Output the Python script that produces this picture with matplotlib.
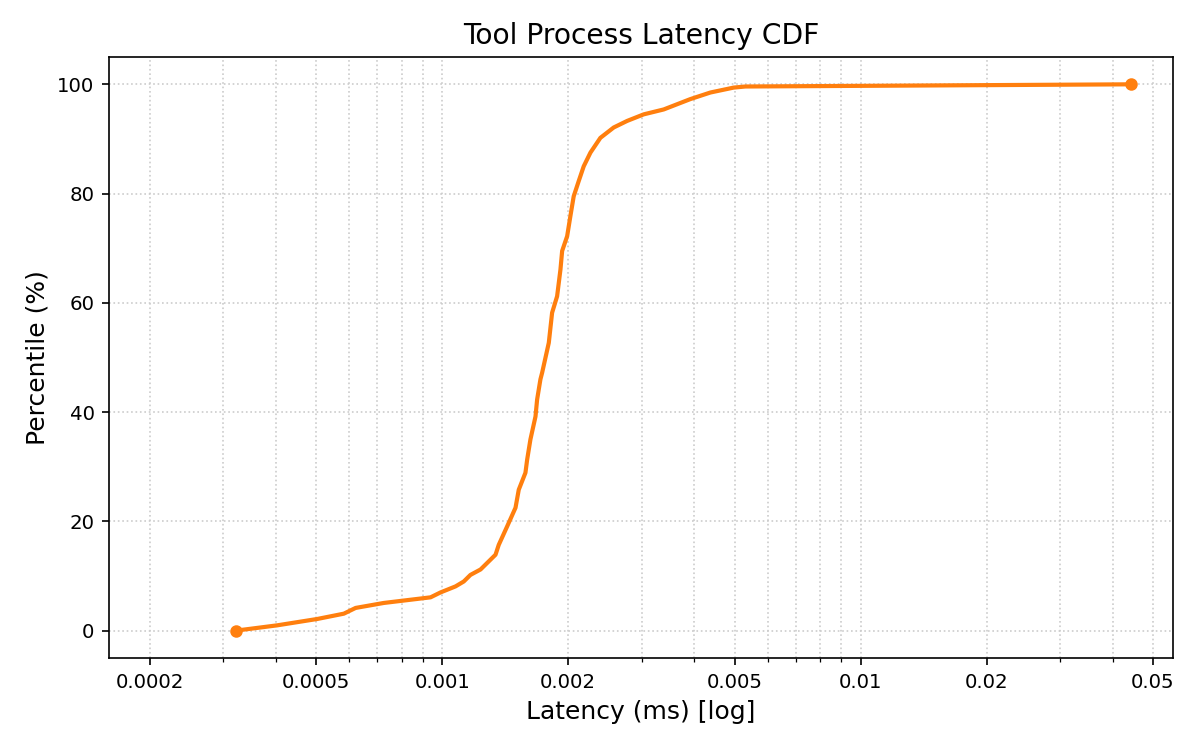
import numpy as np
import matplotlib
matplotlib.use("Agg")
import matplotlib.pyplot as plt
from matplotlib.ticker import FixedLocator, FuncFormatter, NullFormatter

# CDF points (latency in ms, percentile in %)
latency = [0.000321, 0.000403, 0.000503, 0.000582, 0.000621, 0.000725, 0.000938,
           0.000991, 0.001076, 0.001126, 0.001168, 0.001235, 0.001341, 0.001365,
           0.001430, 0.001497, 0.001524, 0.001581, 0.001596, 0.001625, 0.001671,
           0.001686, 0.001717, 0.001733, 0.001798, 0.001831, 0.001882, 0.001917,
           0.001935, 0.001989, 0.002025, 0.002062, 0.002120, 0.002179, 0.002261,
           0.002388, 0.002570, 0.002767, 0.003031, 0.003384, 0.003920, 0.004375,
           0.004973, 0.005304, 0.0443]
percentile = [0.0, 0.97, 2.14, 3.11, 4.16, 5.07, 6.1,
              7.0, 8.1, 9.0, 10.2, 11.2, 13.9, 15.7,
              19.1, 22.5, 25.8, 28.9, 31.3, 35.0, 39.2,
              42.3, 46.0, 47.2, 52.7, 58.2, 61.2, 66.1,
              69.5, 72.2, 75.9, 79.5, 82.3, 85.0, 87.5,
              90.2, 92.1, 93.3, 94.5, 95.4, 97.3, 98.5,
              99.4, 99.6, 100.0]

major_ticks = [0.0002, 0.0005, 0.001, 0.002, 0.005, 0.01, 0.02, 0.05]

fig, ax = plt.subplots(figsize=(8, 5), dpi=150)
fig.subplots_adjust(left=0.091, right=0.9775, top=0.924, bottom=0.1227)

ax.plot(latency, percentile, color="#ff7f0e", linewidth=2)
ax.plot([latency[0], latency[-1]], [percentile[0], percentile[-1]], "o",
        color="#ff7f0e", markersize=5)

ax.set_xscale("log")
ax.set_xlim(0.00016, 0.0558)
ax.set_ylim(-5, 105)

ax.xaxis.set_major_locator(FixedLocator(major_ticks))
ax.xaxis.set_major_formatter(FuncFormatter(lambda v, p: f"{v:g}"))
minors = [m * 10.0 ** e for e in range(-4, -1) for m in range(1, 10)]
minors = [v for v in minors if v not in major_ticks and all(abs(v - t) > 1e-12 for t in major_ticks)]
ax.xaxis.set_minor_locator(FixedLocator(minors))
ax.xaxis.set_minor_formatter(NullFormatter())

ax.grid(True, which="both", linestyle=":", color="#cccccc", linewidth=0.8)
ax.set_axisbelow(True)

ax.set_title("Tool Process Latency CDF", fontsize=13.5)
ax.set_xlabel("Latency (ms) [log]", fontsize=12)
ax.set_ylabel("Percentile (%)", fontsize=12)
ax.tick_params(labelsize=9.5)

fig.savefig("out.png", dpi=150)
